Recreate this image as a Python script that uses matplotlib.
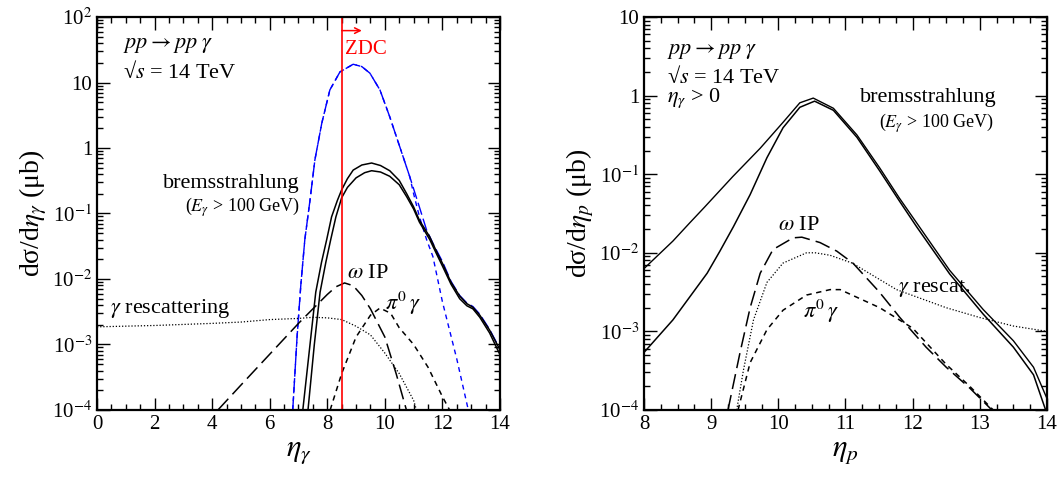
import math

import matplotlib
matplotlib.use("Agg")
import matplotlib.pyplot as plt
from matplotlib.ticker import MultipleLocator, LogLocator, NullFormatter

plt.rcParams["font.family"] = ["Liberation Serif", "DejaVu Serif"]
plt.rcParams["mathtext.fontset"] = "stix"

# ---- left panel: d sigma / d eta_gamma ----
brems_hi_eta = [7.15, 7.4, 7.6, 7.8, 7.98, 8.15, 8.35, 8.5, 8.7, 8.9, 9.2, 9.54, 9.85, 10.17, 10.5,
                10.76, 11.0, 11.2, 11.56, 11.8, 12.0, 12.3, 12.6, 12.85, 13.06, 13.3, 13.64, 14.0]
brems_hi_val = [1e-4, 1e-3, 6.3e-3, 0.018, 0.04, 0.089, 0.158, 0.23, 0.34, 0.46, 0.55, 0.59, 0.54, 0.45,
                0.32, 0.2, 0.126, 0.079, 0.044, 0.026, 0.0174, 0.0089, 0.0055, 0.0042, 0.0037, 0.0028,
                0.00166, 0.00083]
brems_lo_eta = [7.33, 7.55, 7.75, 7.95, 8.12, 8.3, 8.5, 8.7, 9.0, 9.3, 9.54, 9.85, 10.17, 10.5, 10.76,
                11.0, 11.2, 11.56, 11.8, 12.0, 12.3, 12.6, 12.85, 13.06, 13.3, 13.64, 14.0]
brems_lo_val = [1e-4, 1e-3, 6.3e-3, 0.018, 0.04, 0.089, 0.174, 0.25, 0.35, 0.42, 0.45, 0.43, 0.37,
                0.275, 0.18, 0.117, 0.074, 0.04, 0.024, 0.0158, 0.0083, 0.005, 0.0039, 0.0035, 0.0026,
                0.0015, 0.0007]
ecut_long_eta = [6.8, 6.95, 7.08, 7.22, 7.4, 7.57, 7.81, 8.09, 8.44, 8.9, 9.2, 9.48, 9.83, 10.17,
                 10.52, 10.87, 11.2, 11.45, 11.7, 12.0, 12.3, 12.6, 12.85, 13.06, 13.3, 13.64, 14.0]
ecut_long_val = [1e-4, 1.3e-3, 8e-3, 0.04, 0.16, 0.66, 2.4, 7.7, 14.5, 19.0, 17.5, 13.9, 7.7, 3.0,
                 1.04, 0.36, 0.126, 0.056, 0.033, 0.0185, 0.0092, 0.0056, 0.0043, 0.0038, 0.0029,
                 0.0017, 0.00085]
ecut_short_eta = [6.8, 6.95, 7.08, 7.22, 7.4, 7.57, 7.81, 8.09, 8.44, 8.9, 9.2, 9.48, 9.83, 10.17,
                  10.52, 10.87, 11.0, 11.2, 11.45, 11.67, 12.0, 12.5, 12.9]
ecut_short_val = [1e-4, 1.3e-3, 8e-3, 0.04, 0.16, 0.66, 2.4, 7.7, 14.5, 19.0, 17.5, 13.9, 7.7, 3.0,
                  1.04, 0.36, 0.2, 0.09, 0.04, 0.022, 4.5e-3, 6e-4, 1e-4]
omega_eta = [4.2, 5.0, 6.0, 7.0, 7.5, 8.0, 8.3, 8.6, 8.9, 9.2, 9.5, 10.0, 10.4, 10.75]
omega_val = [1e-4, 2.4e-4, 7.1e-4, 2.1e-3, 3.5e-3, 5.8e-3, 7.6e-3, 8.7e-3, 7.9e-3, 5.6e-3, 3.5e-3,
             1.3e-3, 3.5e-4, 1e-4]
pi0_eta = [8.1, 8.5, 9.0, 9.5, 9.83, 10.2, 10.5, 11.0, 11.5, 12.0, 12.25]
pi0_val = [1e-4, 3.6e-4, 1.3e-3, 2.8e-3, 3.6e-3, 3.0e-3, 1.8e-3, 1.0e-3, 4.5e-4, 1.6e-4, 1e-4]
resc_eta = [0.0, 2.0, 4.0, 5.0, 6.0, 7.0, 7.5, 8.0, 8.5, 9.0, 9.5, 10.0, 10.5, 11.0, 11.1]
resc_val = [1.86e-3, 1.95e-3, 2.1e-3, 2.2e-3, 2.4e-3, 2.5e-3, 2.6e-3, 2.55e-3, 2.4e-3, 1.9e-3,
            1.4e-3, 7.4e-4, 3.6e-4, 1.4e-4, 1e-4]

# ---- right panel: d sigma / d eta_p ----
p_brems_hi_eta = [8.0, 8.43, 8.68, 8.9, 9.32, 9.73, 10.07, 10.32, 10.52, 10.82, 11.17, 11.51, 11.8,
                  12.06, 12.55, 13.05, 13.5, 13.8, 14.0]
p_brems_hi_val = [6.3e-3, 0.0141, 0.024, 0.038, 0.093, 0.214, 0.457, 0.81, 0.93, 0.69, 0.316, 0.12,
                  0.05, 0.024, 6.0e-3, 1.9e-3, 7.6e-4, 3.5e-4, 1.4e-4]
p_brems_lo_eta = [8.0, 8.43, 8.94, 9.13, 9.33, 9.58, 9.83, 10.07, 10.32, 10.54, 10.82, 11.17, 11.51,
                  11.8, 12.06, 12.55, 13.05, 13.5, 13.8, 13.98]
p_brems_lo_val = [5.4e-4, 1.4e-3, 5.5e-3, 0.0105, 0.0214, 0.055, 0.162, 0.39, 0.71, 0.85, 0.65, 0.295,
                  0.11, 0.046, 0.0214, 5.4e-3, 1.66e-3, 6.3e-4, 2.8e-4, 1e-4]
p_omega_eta = [9.25, 9.43, 9.58, 9.73, 9.92, 10.22, 10.35, 10.62, 10.87, 11.11, 11.5, 11.81, 12.2,
               12.5, 12.85, 13.18]
p_omega_val = [1e-4, 5.4e-4, 2.0e-3, 5.5e-3, 0.011, 0.0155, 0.0158, 0.0135, 0.0105, 7.4e-3, 3.2e-3,
               1.5e-3, 6.3e-4, 3.5e-4, 1.9e-4, 1e-4]
p_resc_eta = [9.38, 9.48, 9.63, 9.83, 10.07, 10.42, 10.55, 10.77, 11.1, 11.76, 12.5, 13.0, 13.5, 14.0]
p_resc_val = [1e-4, 3.2e-4, 1.4e-3, 4.2e-3, 7.4e-3, 0.01, 0.01, 9.3e-3, 7.4e-3, 3.4e-3, 2.0e-3,
              1.5e-3, 1.17e-3, 1.0e-3]
p_pi0_eta = [9.4, 9.58, 9.83, 10.07, 10.42, 10.77, 10.92, 11.51, 12.0, 12.5, 12.85, 13.2]
p_pi0_val = [1e-4, 4e-4, 1.05e-3, 1.86e-3, 2.9e-3, 3.4e-3, 3.4e-3, 2.0e-3, 1.1e-3, 3.8e-4, 2e-4, 1e-4]

ZDC_ETA = 8.5


def log_label(v, pos):
    if abs(v - 1) < 1e-9:
        return "1"
    if abs(v - 10) < 1e-9:
        return "10"
    return r"10$^{%d}$" % int(round(math.log10(v)))


def style_axes(ax, xmin, xmax, xmajor, xminor, ymin, ymax):
    ax.set_yscale("log")
    ax.set_xlim(xmin, xmax)
    ax.set_ylim(ymin, ymax)
    ax.xaxis.set_major_locator(MultipleLocator(xmajor))
    ax.xaxis.set_minor_locator(MultipleLocator(xminor))
    ax.yaxis.set_major_locator(LogLocator(base=10, numticks=20))
    ax.yaxis.set_minor_locator(LogLocator(base=10, subs=range(2, 10), numticks=20))
    ax.yaxis.set_minor_formatter(NullFormatter())
    ax.yaxis.set_major_formatter(plt.FuncFormatter(log_label))
    ax.tick_params(which="both", direction="in", top=True, right=True, labelsize=15, width=1.0)
    ax.tick_params(which="major", length=9)
    ax.tick_params(which="minor", length=4.5)
    for s in ax.spines.values():
        s.set_linewidth(1.6)


fig = plt.figure(figsize=(10.57, 4.78), dpi=100)
ax1 = fig.add_axes([0.0918, 0.1423, 0.3812, 0.8221])
ax2 = fig.add_axes([0.6093, 0.1423, 0.3812, 0.8221])

lw = 1.1
txt = 16

# left panel
ax1.plot(ecut_long_eta, ecut_long_val, color="blue", lw=1.0, dashes=(9, 3))
ax1.plot(ecut_short_eta, ecut_short_val, color="blue", lw=1.0, dashes=(3.5, 3))
ax1.plot(brems_hi_eta, brems_hi_val, color="black", lw=lw)
ax1.plot(brems_lo_eta, brems_lo_val, color="black", lw=lw)
ax1.plot(omega_eta, omega_val, color="black", lw=lw, dashes=(10, 4))
ax1.plot(pi0_eta, pi0_val, color="black", lw=lw, dashes=(3.5, 3))
ax1.plot(resc_eta, resc_val, color="black", lw=0.9, dashes=(1, 1.5))
ax1.axvline(ZDC_ETA, color="red", lw=1.2)
ax1.annotate("", xy=(9.2, 62), xytext=(ZDC_ETA, 62),
             arrowprops=dict(arrowstyle="->", color="red", lw=1.1, shrinkA=0, shrinkB=0))
ax1.text(8.62, 32, "ZDC", color="red", fontsize=15, va="center", ha="left")
style_axes(ax1, 0, 14, 2, 0.5, 1e-4, 1e2)
ax1.set_xlabel(r"$\eta_\gamma$", fontsize=22, labelpad=2)
ax1.set_ylabel(r"dσ/d$\eta_\gamma$ (μb)", fontsize=20, labelpad=2)

ax1.text(0.9, 37, r"$pp \rightarrow pp\;\gamma$", fontsize=txt, va="center")
ax1.text(0.9, 14.5, r"√$s$ = 14 TeV", fontsize=txt, va="center")
ax1.text(7.05, 0.29, "bremsstrahlung", fontsize=txt, ha="right", va="center")
ax1.text(7.05, 0.126, r"($E_\gamma$ > 100 GeV)", fontsize=13, ha="right", va="center")
ax1.text(0.45, 3.6e-3, r"$\gamma$ rescattering", fontsize=txt, ha="left", va="center")
ax1.text(8.68, 0.0123, r"$\omega$ IP", fontsize=txt, ha="left", va="center")
ax1.text(10.0, 4.3e-3, r"$\pi^0\,\gamma$", fontsize=txt, ha="left", va="center")

# right panel
ax2.plot(p_brems_hi_eta, p_brems_hi_val, color="black", lw=1.0)
ax2.plot(p_brems_lo_eta, p_brems_lo_val, color="black", lw=lw)
ax2.plot(p_omega_eta, p_omega_val, color="black", lw=lw, dashes=(10, 4))
ax2.plot(p_pi0_eta, p_pi0_val, color="black", lw=lw, dashes=(3.5, 3))
ax2.plot(p_resc_eta, p_resc_val, color="black", lw=0.9, dashes=(1, 1.5))
style_axes(ax2, 8, 14, 1, 0.25, 1e-4, 10)
ax2.set_xlabel(r"$\eta_p$", fontsize=22, labelpad=2)
ax2.set_ylabel(r"dσ/d$\eta_p$ (μb)", fontsize=20, labelpad=2)

ax2.text(8.34, 3.6, r"$pp \rightarrow pp\;\gamma$", fontsize=txt, va="center")
ax2.text(8.34, 1.73, r"√$s$ = 14 TeV", fontsize=txt, va="center")
ax2.text(8.34, 0.93, r"$\eta_\gamma$ > 0", fontsize=txt, va="center")
ax2.text(12.23, 0.95, "bremsstrahlung", fontsize=txt, ha="center", va="center")
ax2.text(12.36, 0.45, r"($E_\gamma$ > 100 GeV)", fontsize=13, ha="center", va="center")
ax2.text(10.0, 0.022, r"$\omega$ IP", fontsize=txt, ha="left", va="center")
ax2.text(11.78, 3.5e-3, r"$\gamma$ rescat.", fontsize=txt, ha="left", va="center")
ax2.text(10.37, 1.8e-3, r"$\pi^0\,\gamma$", fontsize=txt, ha="left", va="center")

fig.savefig("out.png", dpi=100)
